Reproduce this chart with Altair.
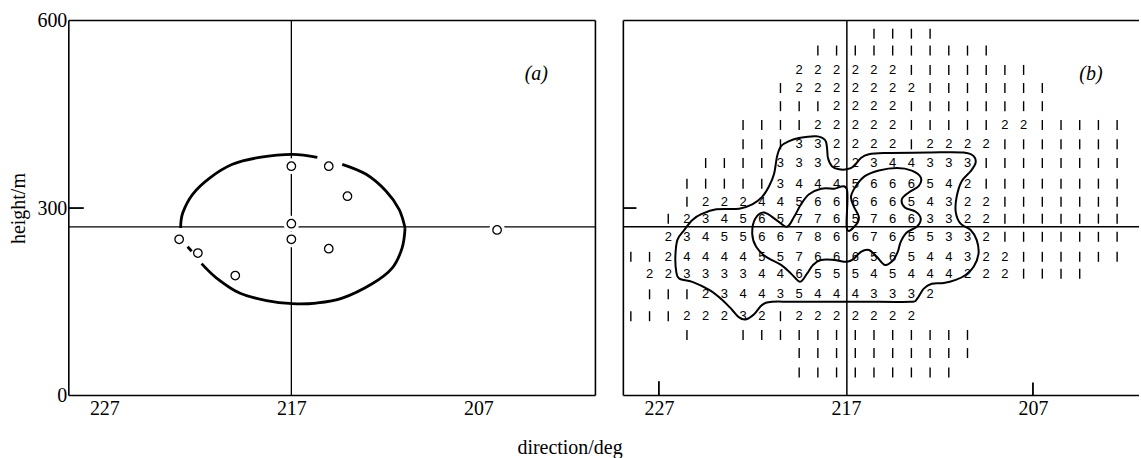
import altair as alt
import pandas as pd

SERIF = "Liberation Serif"
SANS = "Liberation Sans"

# ---------------- shared axis values ----------------
tick_directions = [227, 217, 207]
height_ticks = [0, 300, 600]
cross_direction = 217
cross_height = 270

# ---------------- panel (a): observed positions ----------------
obs_direction = [223, 222, 220, 217, 215, 214, 217, 217, 215, 206]
obs_height = [250, 228, 192, 367, 367, 319, 275, 250, 235, 265]

# ellipse drawn as separate pieces (gaps in the original)
arc_upper_left_dir = [222.92, 222.81, 222.28, 221.37, 220.15, 218.71, 216.95, 215.61]
arc_upper_left_h = [268, 292, 322, 348, 370, 381, 386, 381]
arc_upper_right_dir = [214.28, 213.0, 211.93, 211.24, 210.92]
arc_upper_right_h = [370, 354, 327, 298, 268]
arc_lower_dir = [210.92, 211.08, 211.61, 212.68, 214.28, 215.67, 216.95, 218.33, 219.77, 221.0, 221.8]
arc_lower_h = [268, 236, 204, 179, 156, 148, 147, 152, 164, 188, 211]
arc_dash_dir = [222.55, 222.33]
arc_dash_h = [238, 231]

# ---------------- panel (b): grid of echo counts ----------------
grid_directions = [228.5, 227.5, 226.5, 225.5, 224.5, 223.5, 222.5, 221.5, 220.5,
                   219.5, 218.5, 217.5, 216.5, 215.5, 214.5, 213.5, 212.5, 211.5,
                   210.5, 209.5, 208.5, 207.5, 206.5, 205.5, 204.5, 203.5, 202.5]
grid_heights = [579, 552, 521, 492, 463, 433, 402, 372, 339, 310,
                283, 254, 222, 195, 162, 127, 97, 68, 37]
# (index of first column, values; "." = empty)
grid_rows = [
    (13, "1111"),
    (10, "1111111111"),
    (9, "2222221111111"),
    (8, "122222221111111"),
    (8, "111222211111111"),
    (6, "111122222111112211111"),
    (6, "111332222122221111111"),
    (4, "11113332234433311111111"),
    (3, "111113444566654211111111"),
    (3, "122244566666543221111111"),
    (2, "1234565776576633221111111"),
    (2, "2345566786676553321111111"),
    (0, "112444455766656544322111111"),
    (1, "223333446555454442221111"),
    (1, "1112344354443332"),
    (0, "1112223212222222"),
    (3, "1..1111111111111"),
    (9, "1111111111"),
    (9, "111111111"),
]

# contours (closed)
outer_dir = [220.68, 220.47, 220.04, 219.51, 218.60, 218.12, 218.01, 217.96, 217.75, 217.37,
             216.95, 216.57, 216.20, 215.77, 214.97, 212.57, 210.71, 210.17, 210.07, 210.33,
             210.81, 211.08, 211.13, 210.87, 210.33, 210.01, 209.91, 210.17, 210.60, 211.13,
             211.77, 212.41, 212.84, 213.21, 213.53, 215.24, 219.51, 220.95, 221.48, 221.91,
             222.33, 222.71, 223.08, 223.61, 224.31, 225.21, 225.91, 226.07, 226.12, 226.01,
             225.64, 225.21, 224.68, 223.93, 222.71, 222.01, 221.48, 221.11, 220.84]
outer_h = [383, 399, 407, 412, 415, 409, 396, 380, 367, 362,
           362, 367, 380, 386, 388, 389, 389, 383, 372, 359,
           343, 318, 294, 275, 265, 249, 227, 206, 193, 185,
           180, 179, 171, 154, 150, 150, 150, 150, 145, 130,
           122, 125, 137, 153, 169, 182, 187, 198, 222, 249,
           265, 281, 291, 298, 299, 306, 318, 335, 355]
inner_dir = [216.95, 217.64, 218.33, 218.97, 219.40, 219.77, 220.15, 220.68, 221.37, 221.85,
             222.01, 221.80, 221.27, 220.47, 219.93, 219.45, 219.08, 218.76, 218.33, 217.64,
             216.95, 216.57, 216.20, 215.77, 215.35, 214.92, 214.49, 214.23, 214.07, 213.75,
             213.21, 213.0, 213.27, 213.85, 214.01, 213.64, 213.11, 213.0, 213.48, 214.28,
             215.24, 215.99, 216.47, 216.73, 216.57, 216.31, 216.47, 216.95]
inner_h = [330, 331, 331, 322, 306, 286, 270, 280, 293, 283,
           259, 238, 222, 209, 195, 182, 195, 209, 217, 217,
           214, 219, 230, 233, 222, 209, 216, 230, 246, 261,
           270, 283, 294, 301, 314, 325, 335, 349, 360, 364,
           360, 351, 335, 318, 302, 286, 273, 267]

# ---------------- scales / axes ----------------
XA_LO, XA_HI = 200.74, 228.9
XB_LO, XB_HI = 201.33, 228.9
scale_xa = alt.Scale(domain=[XA_LO, XA_HI], reverse=True, nice=False, zero=False)
scale_xb = alt.Scale(domain=[XB_LO, XB_HI], reverse=True, nice=False, zero=False)
scale_y = alt.Scale(domain=[0, 600], nice=False, zero=False)

label_style = dict(labelFont=SERIF, labelFontSize=20, labelColor="black", labelFlush=False,
                   ticks=False, domain=False, grid=False, format="d")

axis_xa = alt.Axis(values=tick_directions, labelPadding=3, title="direction/deg",
                   titleFont=SERIF, titleFontSize=20, titleFontWeight="normal", titleColor="black",
                   titleX=502, titleY=52, titleAlign="center", titleBaseline="middle",
                   **label_style)
axis_ya = alt.Axis(values=height_ticks, labelPadding=2, title="height/m",
                   titleFont=SERIF, titleFontSize=20, titleFontWeight="normal", titleColor="black",
                   titlePadding=8, **label_style)
axis_xb = alt.Axis(values=tick_directions, labelPadding=3, title=None, **label_style)


def enc(xscale, xaxis, yaxis, **extra):
    return dict(x=alt.X("d:Q", scale=xscale, axis=xaxis),
                y=alt.Y("h:Q", scale=scale_y, axis=yaxis), **extra)


# ================= panel (a) =================
EA = lambda **kw: enc(scale_xa, axis_xa, axis_ya, **kw)

frame_a = pd.DataFrame({"d": [XA_HI, XA_LO, XA_HI, XA_HI], "d2": [XA_HI, XA_LO, XA_LO, XA_LO],
                        "h": [0, 0, 600, 0], "h2": [600, 600, 600, 0]})
cross_a = pd.DataFrame({"d": [cross_direction, XA_HI], "d2": [cross_direction, XA_LO],
                        "h": [0, cross_height], "h2": [600, cross_height]})
tick_a = pd.DataFrame({"d": [XA_HI], "d2": [XA_HI - 0.8], "h": [300], "h2": [300]})
obs = pd.DataFrame({"d": obs_direction, "h": obs_height})

pieces = []
for name, ds, hs in [("ul", arc_upper_left_dir, arc_upper_left_h),
                     ("ur", arc_upper_right_dir, arc_upper_right_h),
                     ("lo", arc_lower_dir, arc_lower_h),
                     ("dash", arc_dash_dir, arc_dash_h)]:
    for i, (d, h) in enumerate(zip(ds, hs)):
        pieces.append({"piece": name, "idx": i, "d": d, "h": h})
arcs = pd.DataFrame(pieces)

label_a = pd.DataFrame({"d": [203.9], "h": [515], "t": ["(a)"]})

a_frame = alt.Chart(frame_a).mark_rule(color="black", strokeWidth=1.6).encode(
    **EA(x2="d2:Q", y2="h2:Q"))
a_cross = alt.Chart(cross_a).mark_rule(color="black", strokeWidth=1.3).encode(
    **EA(x2="d2:Q", y2="h2:Q"))
a_tick = alt.Chart(tick_a).mark_rule(color="black", strokeWidth=1.8).encode(
    **EA(x2="d2:Q", y2="h2:Q"))
a_halo = alt.Chart(obs).mark_point(shape="circle", filled=True, color="white",
                                   size=250, opacity=1).encode(**EA())
a_arcs = alt.Chart(arcs).mark_line(color="black", strokeWidth=2.8, interpolate="cardinal").encode(
    **EA(detail="piece:N", order="idx:Q"))
a_pts = alt.Chart(obs).mark_point(shape="circle", filled=True, fill="white", stroke="black",
                                  strokeWidth=1.3, size=72, opacity=1).encode(**EA())
a_label = alt.Chart(label_a).mark_text(font=SERIF, fontSize=20, fontStyle="italic",
                                       color="black").encode(**EA(text="t:N"))

panel_a = alt.layer(a_frame, a_cross, a_tick, a_halo, a_arcs, a_pts, a_label).properties(
    width=528, height=376)

# ================= panel (b) =================
EB = lambda **kw: enc(scale_xb, axis_xb, None, **kw)

cells = []
for row, (start, vals) in enumerate(grid_rows):
    for j, ch in enumerate(vals):
        if ch == ".":
            continue
        cells.append({"d": grid_directions[start + j], "h": grid_heights[row],
                      "v": int(ch), "t": ch})
grid = pd.DataFrame(cells)
grid_num = grid[grid["v"] >= 2]
grid_one = grid[grid["v"] == 1]

cont = []
for name, ds, hs in [("outer", outer_dir, outer_h), ("inner", inner_dir, inner_h)]:
    for i, (d, h) in enumerate(zip(ds, hs)):
        cont.append({"c": name, "idx": i, "d": d, "h": h})
contours = pd.DataFrame(cont)

frame_b = pd.DataFrame({"d": [XB_HI, XB_HI, XB_HI], "d2": [XB_HI, XB_LO, XB_LO],
                        "h": [0, 600, 0], "h2": [600, 600, 0]})
cross_b = pd.DataFrame({"d": [216.95, XB_HI], "d2": [216.95, XB_LO],
                        "h": [0, cross_height], "h2": [600, cross_height]})
tick_b = pd.DataFrame({"d": [XB_HI, 227, 207], "d2": [XB_HI - 0.7, 227, 207],
                       "h": [300, 0, 0], "h2": [300, 23, 21]})
label_b = pd.DataFrame({"d": [203.9], "h": [515], "t": ["(b)"]})

b_frame = alt.Chart(frame_b).mark_rule(color="black", strokeWidth=1.6).encode(
    **EB(x2="d2:Q", y2="h2:Q"))
b_cross = alt.Chart(cross_b).mark_rule(color="black", strokeWidth=1.5).encode(
    **EB(x2="d2:Q", y2="h2:Q"))
b_tick = alt.Chart(tick_b).mark_rule(color="black", strokeWidth=1.8).encode(
    **EB(x2="d2:Q", y2="h2:Q"))
b_nums = alt.Chart(grid_num).mark_text(font=SANS, fontSize=13, color="black",
                                       baseline="middle", align="center").encode(**EB(text="t:N"))
b_ones = alt.Chart(grid_one).mark_tick(orient="vertical", size=10, thickness=1.4,
                                       color="black", opacity=1).encode(**EB())
b_cont = alt.Chart(contours).mark_line(color="black", strokeWidth=2.0,
                                       interpolate="cardinal-closed").encode(
    **EB(detail="c:N", order="idx:Q"))
b_label = alt.Chart(label_b).mark_text(font=SERIF, fontSize=20, fontStyle="italic",
                                       color="black").encode(**EB(text="t:N"))

panel_b = alt.layer(b_frame, b_cross, b_tick, b_nums, b_ones, b_cont, b_label).properties(
    width=517, height=376)

chart = alt.hconcat(panel_a, panel_b, spacing=28, bounds="flush").properties(
    padding={"left": 8, "top": 9, "right": 0, "bottom": 0},
    background="white",
).configure_view(stroke="transparent")

chart.save("out.html", embed_options={"renderer": "svg", "actions": False})
